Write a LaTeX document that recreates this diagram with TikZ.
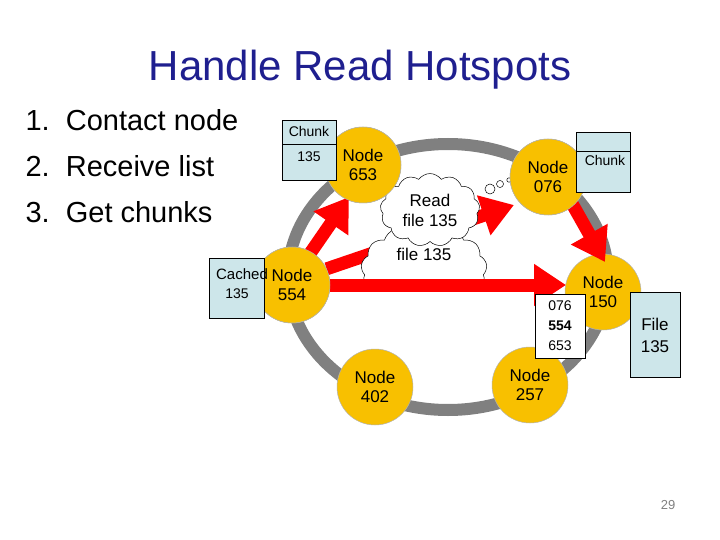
\documentclass[tikz,border=0pt]{standalone}
\usepackage{fontspec}
\setmainfont{Liberation Sans}
\usetikzlibrary{arrows.meta,shapes.symbols}
\definecolor{gold}{HTML}{F8C000}
\definecolor{doc}{HTML}{CDE6EA}
\definecolor{navy}{HTML}{1F1F8F}
\begin{document}
\begin{tikzpicture}[x=1pt,y=-1pt,
  peer/.style={circle,draw=gray!60,fill=gold,minimum size=76pt,inner sep=0pt,align=center,font=\fontsize{17}{19}\selectfont,line width=0.5pt},
  paper/.style={draw=black,fill=doc,inner sep=0pt,align=center,font=\fontsize{14}{17}\selectfont,line width=0.5pt},
  big/.style={red,line width=13pt,-{Triangle[width=40pt,length=32pt]}},
  thought/.style={cloud,cloud puffs=13,cloud puff arc=110,aspect=1.5,inner sep=6pt,draw=black,fill=white,align=center,font=\fontsize{17}{20}\selectfont,line width=0.5pt}]
\useasboundingbox (0,0) rectangle (720,540);
\node[text=navy,font=\fontsize{42}{48}\selectfont] (title) at (360,70) {Handle Read Hotspots};
\node[anchor=west,font=\fontsize{29}{46}\selectfont,align=left] (list) at (22,166) {1.\ \ Contact node\\2.\ \ Receive list\\3.\ \ Get chunks};
\draw[draw=gray,line width=12pt] (448,277) ellipse (160 and 133);
\node[peer] (n653) at (363,165) {Node\\653};
\node[peer] (n554) at (292,285) {Node\\554};
\node[peer] (n076) at (548,177) {Node\\076};
\draw[big,shorten <=-4pt] (n554.60) -- (349,197) coordinate (t653);
\draw[big] (n554.25) -- (514,205) coordinate (t076);
\begin{scope}
\clip (300,150) rectangle (520,279);
\node[thought] (c2) at (424,270) {file 135\\[12pt]};
\end{scope}
\node[thought] (c1) at (430,210) {Read\\file 135};
\draw[fill=white,line width=0.5pt] (490,189) circle (5) (500,184) circle (3.5) (509,180) circle (2.2);
\node[peer] (n150) at (603,292) {Node\\150};
\node[peer] (n402) at (375,387) {Node\\402};
\node[peer] (n257) at (530,385) {Node\\257};
\draw[big] (n554.east) -- (566,285) coordinate (t150);
\node[peer] (n554b) at (292,285) {Node\\554};
\draw[big] (570,200) -- (605,262) coordinate (t150b);
\node[peer] (n076b) at (548,177) {Node\\076};
\node[peer] (n653b) at (363,165) {Node\\653};
\node[paper,minimum width=54pt,minimum height=60pt] (d653) at (309,150) {};
\draw (282,144) -- (336,144);
\node[font=\fontsize{14}{16}\selectfont] (d653a) at (309,131) {Chunk};
\node[font=\fontsize{14}{16}\selectfont] (d653b) at (309,157) {135};
\node[paper,minimum width=55pt,minimum height=60pt] (d554) at (237,288) {};
\node[font=\fontsize{15}{16}\selectfont] (d554a) at (242,274) {Cached};
\node[font=\fontsize{14}{16}\selectfont] (d554b) at (237,294) {135};
\node[paper,minimum width=54pt,minimum height=60pt] (d076) at (603,162) {};
\draw (576,151) -- (630,151);
\node[font=\fontsize{14}{16}\selectfont] (d076a) at (605,160) {Chunk};
\node[paper,minimum width=50pt,minimum height=85pt,font=\fontsize{17}{22}\selectfont] (dfile) at (655,335) {File\\135};
\node[draw=black,fill=white,minimum width=50pt,minimum height=64pt,inner sep=0pt,align=center,font=\fontsize{14}{20}\selectfont] (dlist) at (560,326) {076\\\textbf{554}\\653};
\node[font=\fontsize{13}{15}\selectfont,text=gray] (pg) at (668,505) {29};
\end{tikzpicture}
\end{document}
